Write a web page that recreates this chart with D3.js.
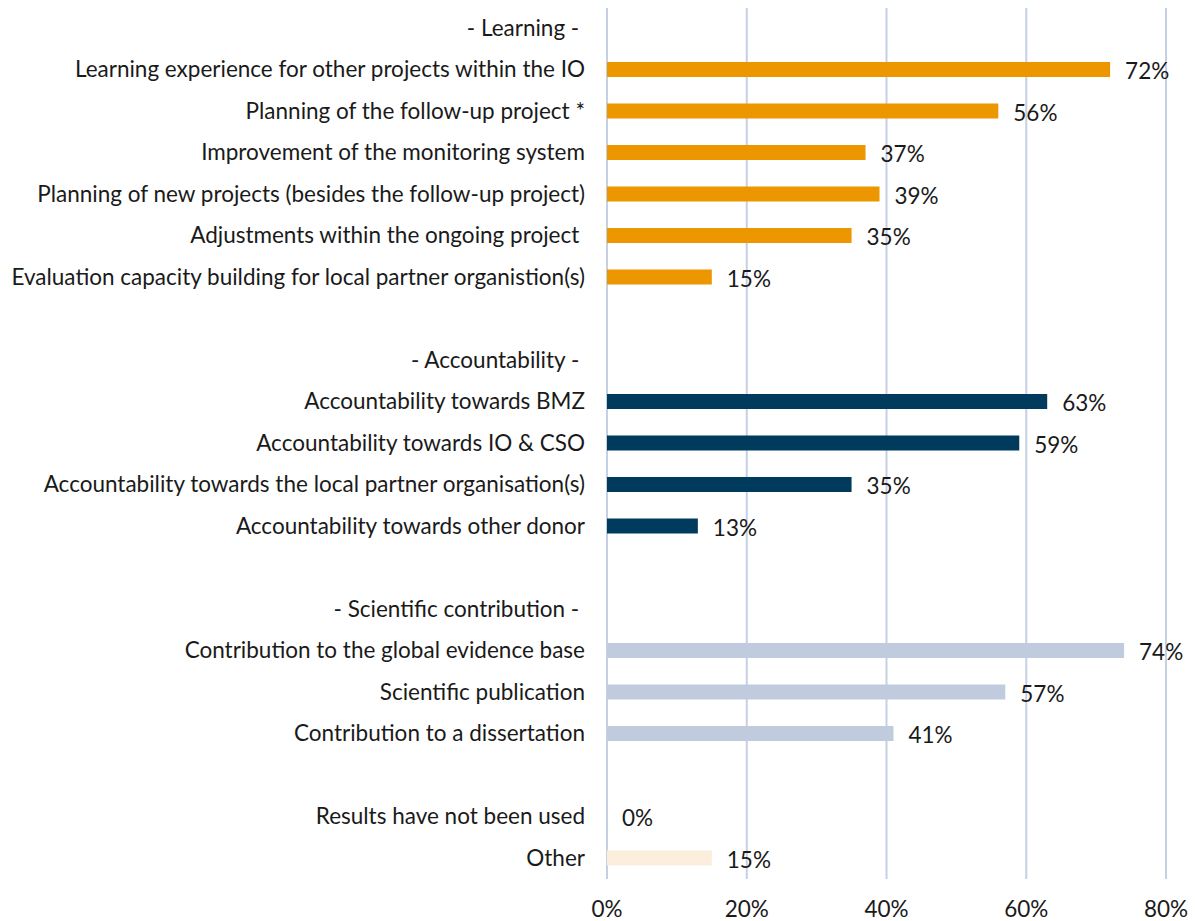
<!DOCTYPE html>
<html>
<head>
<meta charset="utf-8">
<script src="https://cdn.jsdelivr.net/npm/d3@7"></script>
<style>
  body { margin: 0; background: #fff; }
  text { font-family: Lato, "Open Sans", sans-serif; fill: #1a1a1a; white-space: pre; }
</style>
</head>
<body>
<script>
// categories per group (top to bottom)
var learningLabels = [
  "Learning experience for other projects within the IO",
  "Planning of the follow-up project *",
  "Improvement of the monitoring system",
  "Planning of new projects (besides the follow-up project)",
  "Adjustments within the ongoing project ",
  "Evaluation capacity building for local partner organistion(s)"
];
var learningValues = [72, 56, 37, 39, 35, 15];

var accountLabels = [
  "Accountability towards BMZ",
  "Accountability towards IO & CSO",
  "Accountability towards the local partner organisation(s)",
  "Accountability towards other donor"
];
var accountValues = [63, 59, 35, 13];

var scienceLabels = [
  "Contribution to the global evidence base",
  "Scientific publication",
  "Contribution to a dissertation"
];
var scienceValues = [74, 57, 41];

var otherLabels = ["Results have not been used", "Other"];
var otherValues = [0, 15];
var otherColors = ["#fbeedd", "#fbeedd"];

var xTicks = [0, 20, 40, 60, 80];

function main() {
  var W = 1195, H = 921;
  var x0 = 607, x1 = 1166;
  var fs = "22.5px";

  // build the row list, with header rows and gaps
  var rows = [];
  function addGroup(header, labels, values, color) {
    if (header) rows.push({key: "h" + rows.length, label: header, header: true});
    labels.forEach(function(l, i) {
      rows.push({key: "r" + rows.length, label: l, value: values[i], color: Array.isArray(color) ? color[i] : color});
    });
  }
  addGroup("- Learning - ", learningLabels, learningValues, "#ec9600");
  rows.push({key: "gap1", label: ""});
  addGroup("- Accountability - ", accountLabels, accountValues, "#003a5d");
  rows.push({key: "gap2", label: ""});
  addGroup("- Scientific contribution - ", scienceLabels, scienceValues, "#c0cbde");
  rows.push({key: "gap3", label: ""});
  addGroup(null, otherLabels, otherValues, otherColors);

  var xScale = d3.scaleLinear().domain([0, 80]).range([x0, x1]);
  var yScale = d3.scalePoint().domain(rows.map(function(d) { return d.key; })).range([28, 858]);

  var svg = d3.select("body").append("svg")
    .attr("width", W)
    .attr("height", H);

  // vertical grid lines
  svg.append("g").selectAll("line")
    .data(xTicks)
    .enter().append("line")
    .attr("x1", function(d) { return xScale(d); })
    .attr("x2", function(d) { return xScale(d); })
    .attr("y1", 8)
    .attr("y2", 879)
    .attr("stroke", "#c5d0e3")
    .attr("stroke-width", 2);

  // x axis labels
  svg.append("g").selectAll("text")
    .data(xTicks)
    .enter().append("text")
    .attr("x", function(d) { return xScale(d); })
    .attr("y", 911)
    .attr("text-anchor", "middle")
    .attr("dominant-baseline", "middle")
    .style("font-size", fs)
    .text(function(d) { return d + "%"; });

  var barH = 15;
  var bars = rows.filter(function(d) { return d.value !== undefined; });

  svg.append("g").selectAll("rect")
    .data(bars)
    .enter().append("rect")
    .attr("x", xScale(0))
    .attr("y", function(d) { return yScale(d.key) - barH / 2; })
    .attr("width", function(d) { return xScale(d.value) - xScale(0); })
    .attr("height", barH)
    .attr("fill", function(d) { return d.color; });

  // value labels
  svg.append("g").selectAll("text")
    .data(bars)
    .enter().append("text")
    .attr("x", function(d) { return xScale(d.value) + 15; })
    .attr("y", function(d) { return yScale(d.key) + 4; })
    .attr("dominant-baseline", "middle")
    .style("font-size", fs)
    .text(function(d) { return d.value + "%"; });

  // category labels
  svg.append("g").selectAll("text")
    .data(rows)
    .enter().append("text")
    .attr("x", 585)
    .attr("y", function(d) { return yScale(d.key) + 2; })
    .attr("text-anchor", "end")
    .attr("dominant-baseline", "middle")
    .style("font-size", fs)
    .text(function(d) { return d.label; });
}
main();
</script>
</body>
</html>
